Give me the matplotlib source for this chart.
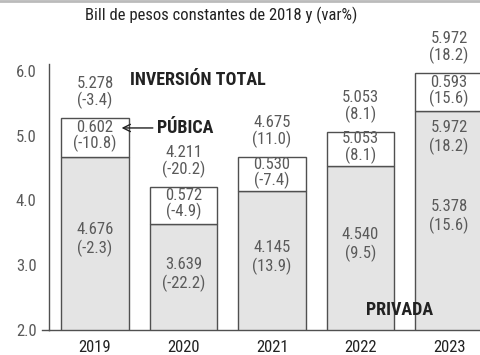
import numpy as np
import matplotlib
matplotlib.use("Agg")
import matplotlib.pyplot as plt
from matplotlib.lines import Line2D

# ---------------------------------------------------------------------------
# Data (bill de pesos constantes de 2018, var %)
# ---------------------------------------------------------------------------
years = ["2019", "2020", "2021", "2022", "2023"]
privada = [4.676, 3.639, 4.145, 4.540, 5.378]
privada_var = [-2.3, -22.2, 13.9, 9.5, 15.6]
publica = [0.602, 0.572, 0.530, 0.513, 0.593]
total = [5.278, 4.211, 4.675, 5.053, 5.972]
total_var = [-3.4, -20.2, 11.0, 8.1, 18.2]
# labels as printed in the original (2022 public box repeats the total)
publica_labels = ["0.602\n(-10.8)", "0.572\n(-4.9)", "0.530\n(-7.4)",
                  "5.053\n(8.1)", "0.593\n(15.6)"]
extra_label_2023 = "5.972\n(18.2)"
yticks = [2.0, 3.0, 4.0, 5.0, 6.0]

FONT = ["Liberation Sans Narrow", "Roboto Condensed", "DejaVu Sans"]
plt.rcParams["font.family"] = FONT

EDGE = "#505050"
FILL = "#e4e4e4"
NUM = "#5a5a5a"
DARK = "#222222"

x = np.arange(len(years))
privada = np.array(privada)
publica = np.array(publica)

fig = plt.figure(figsize=(4.81, 3.55), dpi=100)
ax = fig.add_axes([49 / 481, 25 / 355, 1 - 49 / 481, 265.5 / 355])

ax.bar(x, privada, width=0.76, color=FILL, edgecolor=EDGE, linewidth=1.0)
ax.bar(x, publica, bottom=privada, width=0.76, color="white",
       edgecolor=EDGE, linewidth=1.0)

ax.set_xlim(-0.52, 4.36)
ax.set_ylim(2.0, 6.1)

for i in range(len(years)):
    # total above the bar
    ax.text(x[i], total[i] + 0.14, f"{total[i]:.3f}\n({total_var[i]:.1f})",
            ha="center", va="bottom", fontsize=12, color=NUM, linespacing=1.05)
    # public box
    ax.text(x[i], privada[i] + publica[i] / 2 + 0.02, publica_labels[i],
            ha="center", va="center", fontsize=12, color=NUM, linespacing=1.0)
    # private bar
    ax.text(x[i], 2 + 0.52 * (privada[i] - 2), f"{privada[i]:.3f}\n({privada_var[i]:.1f})",
            ha="center", va="center", fontsize=12, color=NUM, linespacing=1.2)

ax.text(x[4], privada[4] - 0.41, extra_label_2023, ha="center", va="center",
        fontsize=12, color=NUM, linespacing=1.2)

# annotations
ax.text(0.40, 5.86, "INVERSIÓN TOTAL", ha="left", va="center",
        fontsize=13, fontweight="bold", color=DARK)
ax.annotate("PÚBICA", xy=(0.30, 5.12), xytext=(0.70, 5.12),
            ha="left", va="center", fontsize=13, fontweight="bold", color=DARK,
            zorder=5,
            arrowprops=dict(arrowstyle="->", color=DARK, lw=1.0,
                            shrinkA=1, shrinkB=0))
ax.text(3.06, 2.31, "PRIVADA", ha="left", va="center",
        fontsize=13, fontweight="bold", color=DARK)

# axes styling
for side in ["top", "right"]:
    ax.spines[side].set_visible(False)
for side in ["left", "bottom"]:
    ax.spines[side].set_color(EDGE)
    ax.spines[side].set_linewidth(1.0)
ax.set_yticks(yticks)
ax.set_yticklabels([f"{v:.1f}" for v in yticks], fontsize=12, color=NUM)
ax.set_xticks(x)
ax.set_xticklabels(years, fontsize=12, color=DARK)
ax.tick_params(axis="y", length=0, pad=9)
ax.tick_params(axis="x", length=0, pad=7)
# small stub left of the axis at 2.0
ax.plot([-0.6, -0.52], [2.0, 2.0], color=EDGE, lw=1.0, clip_on=False)

fig.text(221 / 481, 1 - 15 / 355, "Bill de pesos constantes de 2018 y (var%)",
         ha="center", va="center", fontsize=12, color=DARK)
fig.add_artist(Line2D([0, 1], [0.997, 0.997], color="#bbbbbb", lw=2))

fig.savefig("out.png", dpi=100)
